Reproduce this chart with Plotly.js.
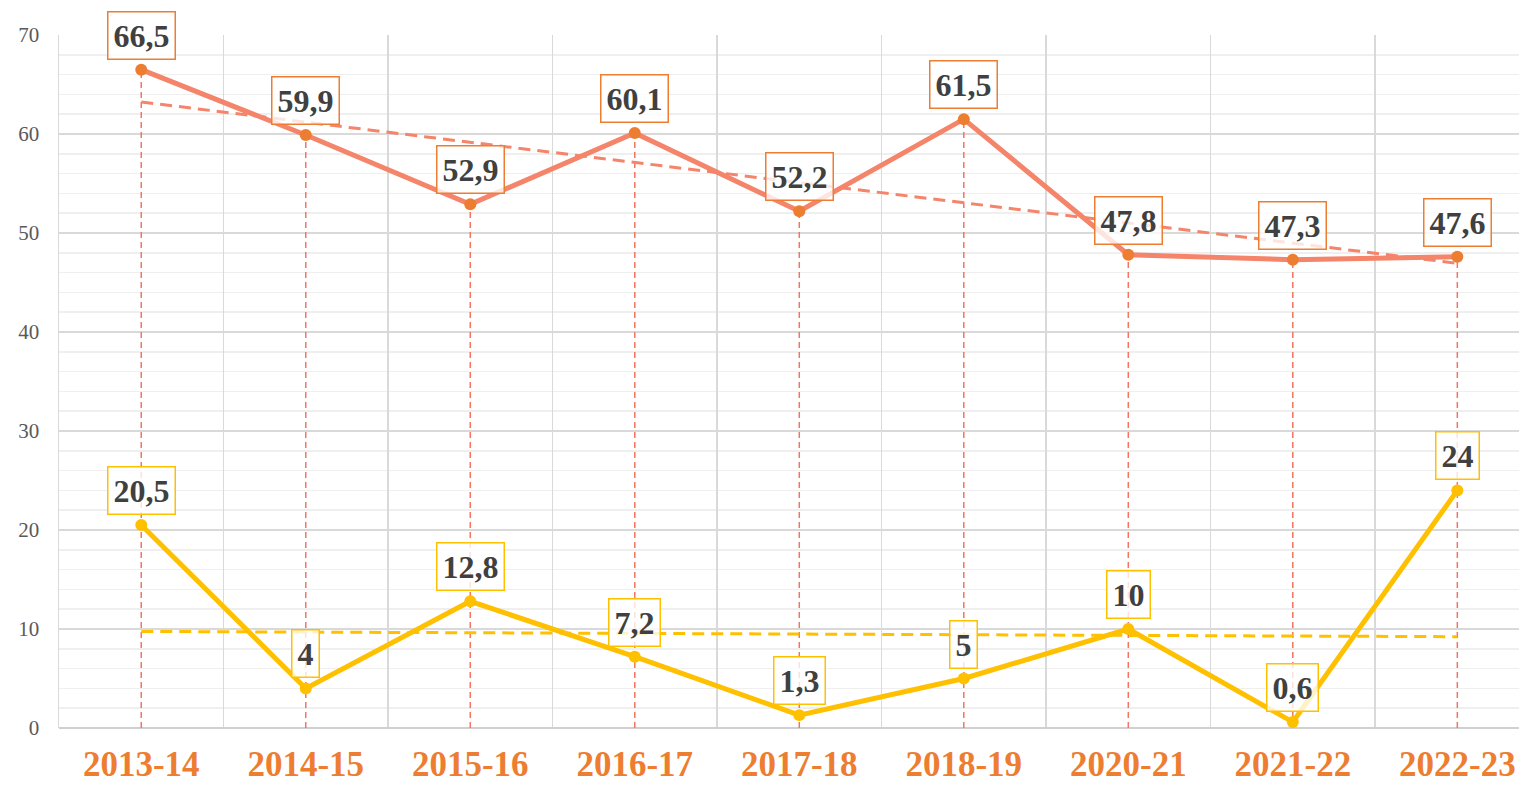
<!DOCTYPE html>
<html>
<head>
<meta charset="utf-8">
<script src="https://cdn.plot.ly/plotly-3.0.1.min.js"></script>
<style>html,body{margin:0;padding:0;background:#fff;}#chart{width:1519px;height:788px;}</style>
</head>
<body>
<div id="chart"></div>
<script>
const categories = ["2013-14","2014-15","2015-16","2016-17","2017-18","2018-19","2020-21","2021-22","2022-23"];
const seriesOrange = [66.5,59.9,52.9,60.1,52.2,61.5,47.8,47.3,47.6];
const seriesYellow = [20.5,4,12.8,7.2,1.3,5,10,0.6,24];
const yTickVals = [0,10,20,30,40,50,60,70];

const ORANGE_LINE = "#F4846A";
const ORANGE_MARK = "#ED7D31";
const YELLOW = "#FFC000";
const DROP = "#F47560";

function trend(vals){
  const n = vals.length;
  const mx = (n-1)/2;
  const my = vals.reduce((a,b)=>a+b,0)/n;
  let sxy=0, sxx=0;
  vals.forEach((v,i)=>{sxy+=(i-mx)*(v-my); sxx+=(i-mx)*(i-mx);});
  const b = sxy/sxx;
  return [my + b*(0-mx), my + b*(n-1-mx)];
}
const tO = trend(seriesOrange), tY = trend(seriesYellow);

const dropX = [], dropY = [];
categories.forEach((c,i)=>{dropX.push(c,c,null); dropY.push(0,seriesOrange[i],null);});

const fmt = v => String(v).replace('.',',');

const traces = [
  {x:dropX, y:dropY, mode:'lines', line:{color:DROP, width:1.5, dash:'6px,4px'}, hoverinfo:'skip', showlegend:false},
  {x:[categories[0],categories[categories.length-1]], y:tO, mode:'lines', line:{color:ORANGE_LINE, width:3, dash:'12px,7px'}, showlegend:false},
  {x:[categories[0],categories[categories.length-1]], y:tY, mode:'lines', line:{color:YELLOW, width:3, dash:'12px,7px'}, showlegend:false},
  {x:categories, y:seriesOrange, mode:'lines+markers', line:{color:ORANGE_LINE, width:5}, marker:{color:ORANGE_MARK, size:12}, showlegend:false},
  {x:categories, y:seriesYellow, mode:'lines+markers', line:{color:YELLOW, width:5}, marker:{color:YELLOW, size:12}, showlegend:false}
];

const annotations = [];
function addLabels(vals, border){
  vals.forEach((v,i)=>{
    annotations.push({x:categories[i], y:v, xref:'x', yref:'y', text:'<b>'+fmt(v)+'</b>', showarrow:false,
      yanchor:'bottom', yshift:10, font:{family:'Liberation Serif', size:32, color:'#404040'},
      bgcolor:'rgba(255,255,255,0.78)', bordercolor:border, borderwidth:1.5, borderpad:5});
  });
}
addLabels(seriesOrange, ORANGE_MARK);
addLabels(seriesYellow, YELLOW);

const layout = {
  width:1519, height:788,
  margin:{l:59, r:0, t:35, b:60},
  paper_bgcolor:'#fff', plot_bgcolor:'#fff',
  showlegend:false,
  xaxis:{type:'category', range:[-0.5,8.375], tickson:'boundaries', showgrid:true, gridcolor:'#d9d9d9', gridwidth:1.5,
    ticks:'', ticklabelstandoff:12, showline:false, zeroline:false,
    tickfont:{family:'Liberation Serif', size:35, color:ORANGE_MARK, weight:'bold'}},
  yaxis:{range:[0,70], tickvals:yTickVals, showgrid:true, gridcolor:'#d9d9d9', gridwidth:1.5,
    minor:{dtick:2, showgrid:true, gridcolor:'#efefef', gridwidth:1.5},
    zeroline:true, zerolinecolor:'#d0d0d0', zerolinewidth:2,
    showline:true, linecolor:'#d9d9d9', linewidth:1.5, ticks:'', ticklabelstandoff:14,
    tickfont:{family:'Liberation Serif', size:21, color:'#595959'}},
  annotations:annotations
};

Plotly.newPlot('chart', traces, layout, {displayModeBar:false, staticPlot:true});
</script>
</body>
</html>
